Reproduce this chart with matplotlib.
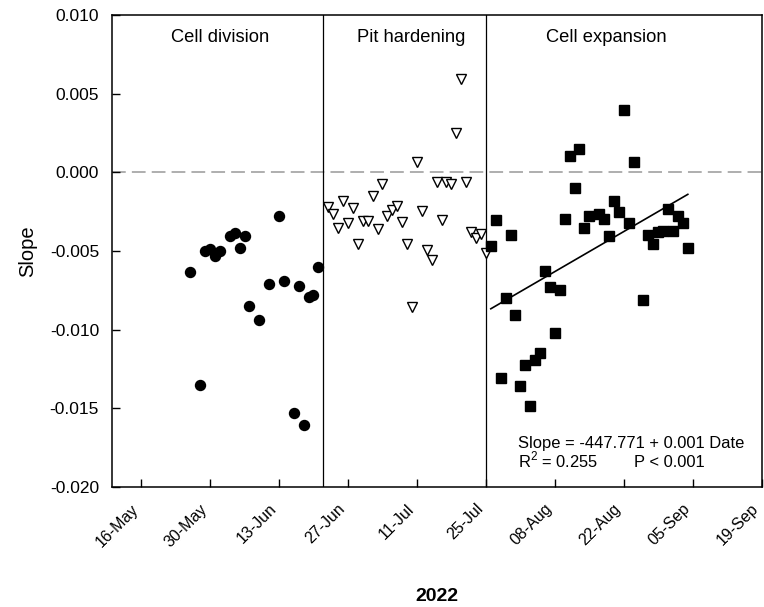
import matplotlib
matplotlib.use('Agg')
import matplotlib.pyplot as plt
import matplotlib.dates as mdates
from matplotlib.ticker import FormatStrFormatter
import numpy as np
import pandas as pd

plt.rcParams['font.family'] = ['Liberation Sans', 'DejaVu Sans']
plt.rcParams['mathtext.fontset'] = 'custom'
plt.rcParams['mathtext.rm'] = 'Liberation Sans'
plt.rcParams['axes.unicode_minus'] = False

# cell division phase (circles)
division_dates = ['2022-05-26', '2022-05-28', '2022-05-29', '2022-05-30', '2022-05-31',
                  '2022-06-01', '2022-06-03', '2022-06-04', '2022-06-05', '2022-06-06',
                  '2022-06-07', '2022-06-09', '2022-06-11', '2022-06-13', '2022-06-14',
                  '2022-06-16', '2022-06-17', '2022-06-18', '2022-06-19', '2022-06-20',
                  '2022-06-21']
division_slope = [-6.36, -13.5, -5.02, -4.87, -5.34, -4.98, -4.03, -3.86, -4.81, -4.03,
                  -8.51, -9.42, -7.09, -2.76, -6.93, -15.33, -7.22, -16.09, -7.94, -7.81,
                  -6.01]

# pit hardening phase (open triangles)
pit_dates = ['2022-06-23', '2022-06-24', '2022-06-25', '2022-06-26', '2022-06-27',
             '2022-06-28', '2022-06-29', '2022-06-30', '2022-07-01', '2022-07-02',
             '2022-07-03', '2022-07-04', '2022-07-05', '2022-07-06', '2022-07-07',
             '2022-07-08', '2022-07-09', '2022-07-10', '2022-07-11', '2022-07-12',
             '2022-07-13', '2022-07-14', '2022-07-15', '2022-07-16', '2022-07-17',
             '2022-07-18', '2022-07-19', '2022-07-20', '2022-07-21', '2022-07-22',
             '2022-07-23', '2022-07-24', '2022-07-25']
pit_slope = [-2.21, -2.63, -3.54, -1.80, -3.22, -2.27, -4.53, -3.07, -3.12, -1.53,
             -3.60, -0.77, -2.80, -2.42, -2.16, -3.16, -4.55, -8.55, 0.63, -2.44,
             -4.96, -5.59, -0.62, -3.01, -0.62, -0.72, 2.49, 5.92, -0.62, -3.79,
             -4.17, -3.92, -5.13]

# cell expansion phase (squares)
expansion_dates = ['2022-07-26', '2022-07-27', '2022-07-28', '2022-07-29', '2022-07-30',
                   '2022-07-31', '2022-08-01', '2022-08-02', '2022-08-03', '2022-08-04',
                   '2022-08-05', '2022-08-06', '2022-08-07', '2022-08-08', '2022-08-09',
                   '2022-08-10', '2022-08-11', '2022-08-12', '2022-08-13', '2022-08-14',
                   '2022-08-15', '2022-08-17', '2022-08-18', '2022-08-19', '2022-08-20',
                   '2022-08-21', '2022-08-22', '2022-08-23', '2022-08-24', '2022-08-26',
                   '2022-08-27', '2022-08-28', '2022-08-29', '2022-08-30', '2022-08-31',
                   '2022-09-01', '2022-09-02', '2022-09-03', '2022-09-04']
expansion_slope = [-4.70, -3.01, -13.06, -7.98, -3.96, -9.08, -13.59, -12.22, -14.86, -11.94,
                   -11.48, -6.25, -7.31, -10.21, -7.46, -2.97, 1.05, -1.00, 1.48, -3.54,
                   -2.80, -2.63, -2.95, -4.07, -1.80, -2.52, 3.97, -3.22, 0.69, -8.13,
                   -4.00, -4.53, -3.79, -3.71, -2.33, -3.71, -2.76, -3.22, -4.81]

phase_bounds = ['2022-06-22', '2022-07-25']
phase_names = ['Cell division', 'Pit hardening', 'Cell expansion']
phase_label_dates = ['2022-06-01', '2022-07-09 18:00', '2022-08-18 12:00']
tick_dates = ['2022-05-16', '2022-05-30', '2022-06-13', '2022-06-27', '2022-07-11',
              '2022-07-25', '2022-08-08', '2022-08-22', '2022-09-05', '2022-09-19']


def to_dt(lst):
    return pd.to_datetime(lst)


fig = plt.figure(figsize=(7.64, 6.07), dpi=100)
ax = fig.add_axes([0.146, 0.198, 0.851, 0.777])

ax.axhline(0, color='#999999', lw=1.1, dashes=(9, 4), zorder=1)
for b in phase_bounds:
    ax.axvline(to_dt([b])[0], color='black', lw=0.9, zorder=1)

ax.plot(to_dt(division_dates), np.array(division_slope) / 1000, 'o', ms=7.2,
        color='black', zorder=3)
ax.plot(to_dt(pit_dates), np.array(pit_slope) / 1000, 'v', ms=6.6,
        mfc='white', mec='black', mew=1.0, zorder=3)
ax.plot(to_dt(expansion_dates), np.array(expansion_slope) / 1000, 's', ms=6.6,
        color='black', zorder=3)

# linear regression over the cell expansion phase
xe = mdates.date2num(to_dt(expansion_dates))
ye = np.array(expansion_slope) / 1000
k, b0 = np.polyfit(xe, ye, 1)
xr = np.array([xe.min(), xe.max()])
ax.plot(mdates.num2date(xr), k * xr + b0, color='black', lw=1.2, zorder=2)

for name, d in zip(phase_names, phase_label_dates):
    ax.text(to_dt([d])[0], 0.0086, name, ha='center', va='center', fontsize=13.2)

ax.text(0.625, 0.083, 'Slope = -447.771 + 0.001 Date', transform=ax.transAxes,
        fontsize=11.9, ha='left', va='baseline')
ax.text(0.625, 0.042, r'R$^2$ = 0.255', transform=ax.transAxes,
        fontsize=11.9, ha='left', va='baseline')
ax.text(0.804, 0.042, 'P < 0.001', transform=ax.transAxes,
        fontsize=11.9, ha='left', va='baseline')

ax.set_xlim(pd.Timestamp('2022-05-10'), pd.Timestamp('2022-09-19'))
ax.set_ylim(-0.020, 0.010)
ax.set_yticks(np.arange(-0.020, 0.0101, 0.005))
ax.yaxis.set_major_formatter(FormatStrFormatter('%.3f'))
ax.set_xticks(to_dt(tick_dates))
ax.xaxis.set_major_formatter(mdates.DateFormatter('%d-%b'))
ax.tick_params(direction='in', length=6, width=1)
ax.tick_params(axis='y', labelsize=12.5, pad=9)
ax.tick_params(axis='x', labelsize=11.5, pad=18)
plt.setp(ax.get_xticklabels(), rotation=45, ha='right', va='bottom',
         rotation_mode='anchor')
for s in ax.spines.values():
    s.set_linewidth(1.1)

ax.set_ylabel('Slope', fontsize=14.5, labelpad=9)
ax.set_xlabel('2022', fontsize=14, fontweight='bold', labelpad=28)

fig.savefig('out.png', dpi=100)
